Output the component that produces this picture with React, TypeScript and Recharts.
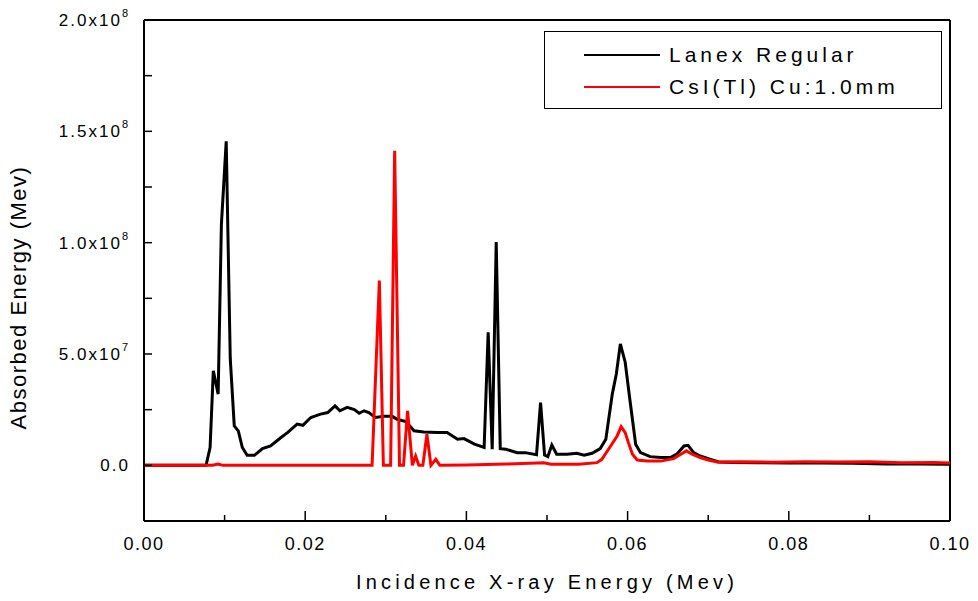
import React from 'react';
import { LineChart, Line, XAxis, YAxis, ReferenceLine, Legend } from 'recharts';

// Lanex Regular screen (black)
const lanexEnergy = [
  0, 0.007, 0.0077, 0.0082, 0.0086, 0.0092, 0.0096, 0.0102, 0.0107, 0.0112,
  0.0117, 0.0122, 0.0128, 0.0137, 0.0147, 0.0157, 0.017, 0.0178, 0.019, 0.0197,
  0.0207, 0.0219, 0.0228, 0.0237, 0.0243, 0.0252, 0.0261, 0.0267, 0.0273, 0.0279,
  0.0287, 0.0298, 0.0308, 0.0314, 0.0325, 0.0335, 0.0347, 0.0364, 0.0376, 0.0389,
  0.0397, 0.041, 0.0422, 0.0427, 0.0432, 0.0437, 0.0442, 0.0449, 0.0463, 0.0473,
  0.0487, 0.0492, 0.0497, 0.0501, 0.0506, 0.0512, 0.0525, 0.0537, 0.0546, 0.0556,
  0.0566, 0.0573, 0.0581, 0.0586, 0.0591, 0.0597, 0.0603, 0.061, 0.0616, 0.0628,
  0.0641, 0.0653, 0.0661, 0.067, 0.0675, 0.0682, 0.069, 0.0703, 0.0713, 0.073,
  0.076, 0.08, 0.084, 0.088, 0.092, 0.096, 0.1,
];
const lanexAbsorbed = [
  0, 0, 0, 8e6, 4.25e7, 3.2e7, 1.08e8, 1.455e8, 4.8e7, 1.77e7,
  1.55e7, 8e6, 4.5e6, 4.5e6, 7.5e6, 8.7e6, 1.25e7, 1.47e7, 1.85e7, 1.8e7,
  2.15e7, 2.3e7, 2.37e7, 2.67e7, 2.45e7, 2.6e7, 2.5e7, 2.34e7, 2.45e7, 2.37e7,
  2.15e7, 2.2e7, 2.2e7, 2.07e7, 1.97e7, 1.55e7, 1.5e7, 1.47e7, 1.47e7, 1.17e7,
  1.2e7, 9.5e6, 8e6, 5.98e7, 7.2e6, 1.003e8, 7.5e6, 7.2e6, 5.7e6, 5.7e6,
  4.8e6, 2.82e7, 4.6e6, 3.9e6, 9.1e6, 5e6, 5e6, 5.4e6, 4.5e6, 5.4e6,
  7.5e6, 1.17e7, 3.2e7, 4.1e7, 5.45e7, 4.63e7, 2.9e7, 9.5e6, 5.7e6, 3.9e6,
  3.5e6, 3.5e6, 5e6, 8.7e6, 9e6, 5.7e6, 4.2e6, 2.7e6, 1.5e6, 1.3e6,
  1.2e6, 1.0e6, 1.1e6, 0.9e6, 0.6e6, 0.6e6, 0.5e6,
];

// CsI(Tl) with 1.0mm Cu (red)
const csiEnergy = [
  0, 0.0085, 0.0092, 0.0098, 0.0283, 0.0292, 0.0297, 0.0306, 0.0311, 0.0317,
  0.0322, 0.0327, 0.0333, 0.0337, 0.0341, 0.0346, 0.0351, 0.0356, 0.0362, 0.0367,
  0.04, 0.045, 0.0496, 0.0505, 0.0539, 0.0562, 0.0568, 0.0579, 0.0587, 0.0592,
  0.0597, 0.0601, 0.0606, 0.0612, 0.0624, 0.0641, 0.0657, 0.0666, 0.0673, 0.068,
  0.069, 0.07, 0.0711, 0.074, 0.078, 0.082, 0.086, 0.09, 0.094, 0.098, 0.1,
];
const csiAbsorbed = [
  0, 0, 6e5, 0, 0, 8.3e7, 0, 0, 1.413e8, 0,
  0, 2.45e7, 0, 4.2e6, 0, 0, 1.4e7, 0, 2.7e6, 0,
  2e5, 6e5, 1.2e6, 5e5, 5e5, 1.2e6, 2.7e6, 8.7e6, 1.32e7, 1.74e7,
  1.47e7, 1.02e7, 5e6, 2.4e6, 1.9e6, 1.9e6, 3e6, 5e6, 6.5e6, 5e6,
  3.5e6, 2.4e6, 1.5e6, 1.6e6, 1.4e6, 1.6e6, 1.5e6, 1.6e6, 1.2e6, 1.3e6, 1.0e6,
];

const seriesNames = ['Lanex Regular', 'CsI(Tl) Cu:1.0mm'];

const xTicks = [0, 0.01, 0.02, 0.03, 0.04, 0.05, 0.06, 0.07, 0.08, 0.09, 0.1];
const xTickLabels = ['0.00', '', '0.02', '', '0.04', '', '0.06', '', '0.08', '', '0.10'];
const yTicks = [-2.5e7, 0, 2.5e7, 5e7, 7.5e7, 1e8, 1.25e8, 1.5e8, 1.75e8, 2e8];
const yTickLabels: Record<number, [string, string]> = {
  0: ['0.0', ''],
  50000000: ['5.0x10', '7'],
  100000000: ['1.0x10', '8'],
  150000000: ['1.5x10', '8'],
  200000000: ['2.0x10', '8'],
};

const lanexData = lanexEnergy.map((e, i) => ({ energy: e, value: lanexAbsorbed[i] }));
const csiData = csiEnergy.map((e, i) => ({ energy: e, value: csiAbsorbed[i] }));

const SANS = '"Liberation Sans", Arial, sans-serif';

const XTick = (props: any) => {
  const { x, y, index } = props;
  const label = xTickLabels[index];
  const len = label ? 10 : 6;
  return (
    <g>
      <line x1={x} x2={x} y1={y} y2={y - len} stroke="#000" strokeWidth={1.5} />
      {label && (
        <text x={x} y={y + 29} textAnchor="middle" fontFamily={SANS} fontSize={18} letterSpacing={1.5} fill="#000">
          {label}
        </text>
      )}
    </g>
  );
};

const YTick = (props: any) => {
  const { x, y, payload } = props;
  const lab = yTickLabels[payload.value];
  return (
    <g>
      {payload.value > -2.5e7 && (
        <line x1={x} x2={x + 8} y1={y} y2={y} stroke="#000" strokeWidth={1.5} />
      )}
      {lab && (
        <text x={x - 14} y={y + 6} textAnchor="end" fontFamily={SANS} fontSize={17} letterSpacing={2} fill="#000">
          {lab[0]}
          {lab[1] && (
            <tspan fontSize={11} dy={-9}>{lab[1]}</tspan>
          )}
        </text>
      )}
    </g>
  );
};

const LegendBox = (props: any) => {
  const payload = [...(props.payload || [])].sort(
    (a: any, b: any) => seriesNames.indexOf(a.value) - seriesNames.indexOf(b.value),
  );
  return (
    <div style={{
      width: 398,
      height: 78,
      border: '1.5px solid #000',
      background: '#fff',
      boxSizing: 'border-box',
      paddingTop: 7,
    }}>
      {payload.map((entry: any) => (
        <div key={entry.value} style={{ display: 'flex', alignItems: 'center', height: 32 }}>
          <div style={{ marginLeft: 39, width: 76, height: 2, background: entry.color }} />
          <span style={{ marginLeft: 9, fontFamily: SANS, fontSize: 21, letterSpacing: 4, color: '#000' }}>
            {entry.value}
          </span>
        </div>
      ))}
    </div>
  );
};

export default function App() {
  return (
    <div style={{ position: 'absolute', left: 0, top: 0, background: '#fff' }}>
      <LineChart width={978} height={601} margin={{ top: 20, right: 28, left: 0, bottom: 0 }}>
        <XAxis
          dataKey="energy"
          type="number"
          domain={[0, 0.1]}
          allowDataOverflow
          ticks={xTicks}
          interval={0}
          tickSize={0}
          tickMargin={0}
          tickLine={false}
          tick={<XTick />}
          height={80}
          axisLine={{ stroke: '#000', strokeWidth: 2 }}
          label={{
            value: 'Incidence X-ray Energy (Mev)',
            position: 'insideBottom',
            offset: 12,
            style: { fontFamily: SANS, fontSize: 20, letterSpacing: 4.2, fill: '#000' },
          }}
        />
        <YAxis
          type="number"
          domain={[-2.5e7, 2e8]}
          allowDataOverflow
          ticks={yTicks}
          interval={0}
          tickSize={0}
          tickMargin={0}
          tickLine={false}
          tick={<YTick />}
          width={144}
          axisLine={{ stroke: '#000', strokeWidth: 2 }}
          label={{
            value: 'Absorbed Energy (Mev)',
            angle: -90,
            position: 'insideLeft',
            offset: 18,
            dy: 27,
            style: { textAnchor: 'middle', fontFamily: SANS, fontSize: 22, letterSpacing: 1.5, fill: '#000' },
          }}
        />
        <ReferenceLine y={2e8} stroke="#000" strokeWidth={2} />
        <ReferenceLine x={0.1} stroke="#000" strokeWidth={2} />
        <Legend
          layout="vertical"
          align="center"
          verticalAlign="middle"
          content={<LegendBox />}
          wrapperStyle={{ position: 'absolute', left: 544, top: 31, width: 398 }}
        />
        <Line
          data={lanexData}
          dataKey="value"
          name="Lanex Regular"
          type="linear"
          stroke="#000"
          strokeWidth={3}
          dot={false}
          isAnimationActive={false}
        />
        <Line
          data={csiData}
          dataKey="value"
          name="CsI(Tl) Cu:1.0mm"
          type="linear"
          stroke="#ff0000"
          strokeWidth={3}
          dot={false}
          isAnimationActive={false}
        />
      </LineChart>
    </div>
  );
}
